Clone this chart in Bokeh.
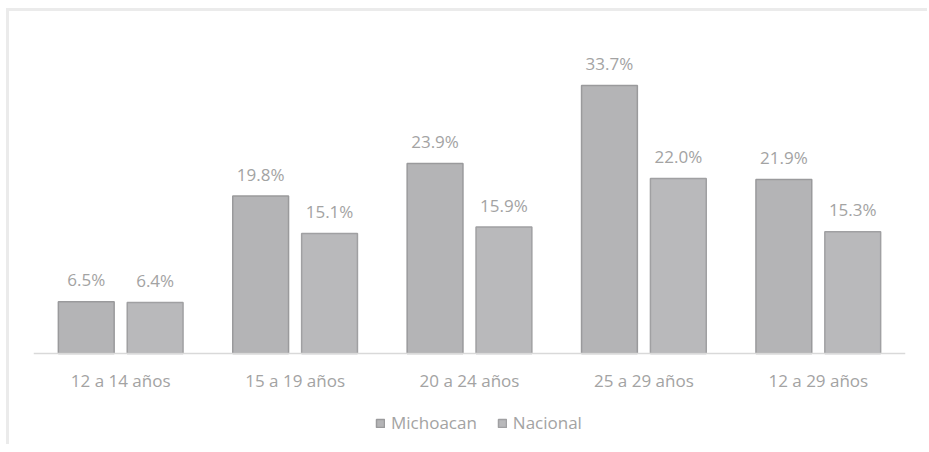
from bokeh.plotting import figure
from bokeh.models import (FactorRange, ColumnDataSource, LabelSet, Legend, LegendItem,
                          Range1d, Span)
from bokeh.core.properties import value
from bokeh.transform import dodge
from bokeh.embed import file_html
from bokeh.resources import INLINE

categories = ["12 a 14 años", "15 a 19 años", "20 a 24 años", "25 a 29 años", "12 a 29 años"]
michoacan = [6.5, 19.8, 23.9, 33.7, 21.9]
nacional = [6.4, 15.1, 15.9, 22.0, 15.3]
series_names = ["Michoacan", "Nacional"]

FONT = "Open Sans"
TXT = "#a3a3a3"
FS = "17px"

PLOT_H = 318          # pixels from baseline to 40 %
BELOW_H = 91          # pixels below baseline kept inside the frame for labels/legend
Y_MAX = 40

src = ColumnDataSource(dict(
    cat=categories,
    zero=[0] * len(categories),
    mich=michoacan,
    nac=nacional,
    mich_lbl=[f"{v:.1f}%" for v in michoacan],
    nac_lbl=[f"{v:.1f}%" for v in nacional],
))

p = figure(x_range=FactorRange(*categories),
           y_range=Range1d(-BELOW_H / PLOT_H * Y_MAX, Y_MAX),
           frame_width=872, frame_height=PLOT_H + BELOW_H,
           output_backend="svg", toolbar_location=None,
           min_border_left=24, min_border_right=22, min_border_top=24, min_border_bottom=0)
p.x_range.range_padding = 0
p.outline_line_color = None
p.grid.visible = False
p.xaxis.visible = False
p.yaxis.visible = False
p.styles = {"margin-left": "6px", "margin-top": "8px",
            "border-left": "3px solid #ebebeb", "border-top": "3px solid #ebebeb"}

# category axis line
p.add_layout(Span(location=0, dimension="width", line_color="#d9d9d9", line_width=1.5))

off = 0.1975
r1 = p.vbar(x=dodge("cat", -off, range=p.x_range), top="mich", width=0.32, source=src,
            fill_color="#b4b4b6", line_color="#9a9a9c", line_width=1.5)
r2 = p.vbar(x=dodge("cat", off, range=p.x_range), top="nac", width=0.32, source=src,
            fill_color="#b9b9bb", line_color="#a0a0a2", line_width=1.5)

for col, lbl, o in (("mich", "mich_lbl", -off), ("nac", "nac_lbl", off)):
    ls = LabelSet(x=dodge("cat", o, range=p.x_range), y=col, text=lbl, source=src,
                  text_align="center", text_baseline="middle", y_offset=22,
                  text_font=value(FONT), text_font_size=value(FS), text_color=value(TXT))
    p.add_layout(ls)

# category (tick) labels under the baseline
p.add_layout(LabelSet(x="cat", y="zero", text="cat", source=src,
                      text_align="center", text_baseline="middle", y_offset=-27,
                      text_font=value(FONT), text_font_size=value(FS), text_color=value(TXT)))

legend = Legend(items=[LegendItem(label=series_names[0], renderers=[r1]),
                       LegendItem(label=series_names[1], renderers=[r2])],
                orientation="horizontal", location=(342, 10),
                label_text_font=FONT, label_text_font_size=FS, label_text_color=TXT,
                glyph_width=10, glyph_height=10, spacing=20, label_standoff=6,
                border_line_color=None, background_fill_alpha=0, margin=0, padding=0)
p.add_layout(legend, "center")

open("out.html", "w").write(file_html(p, INLINE))
